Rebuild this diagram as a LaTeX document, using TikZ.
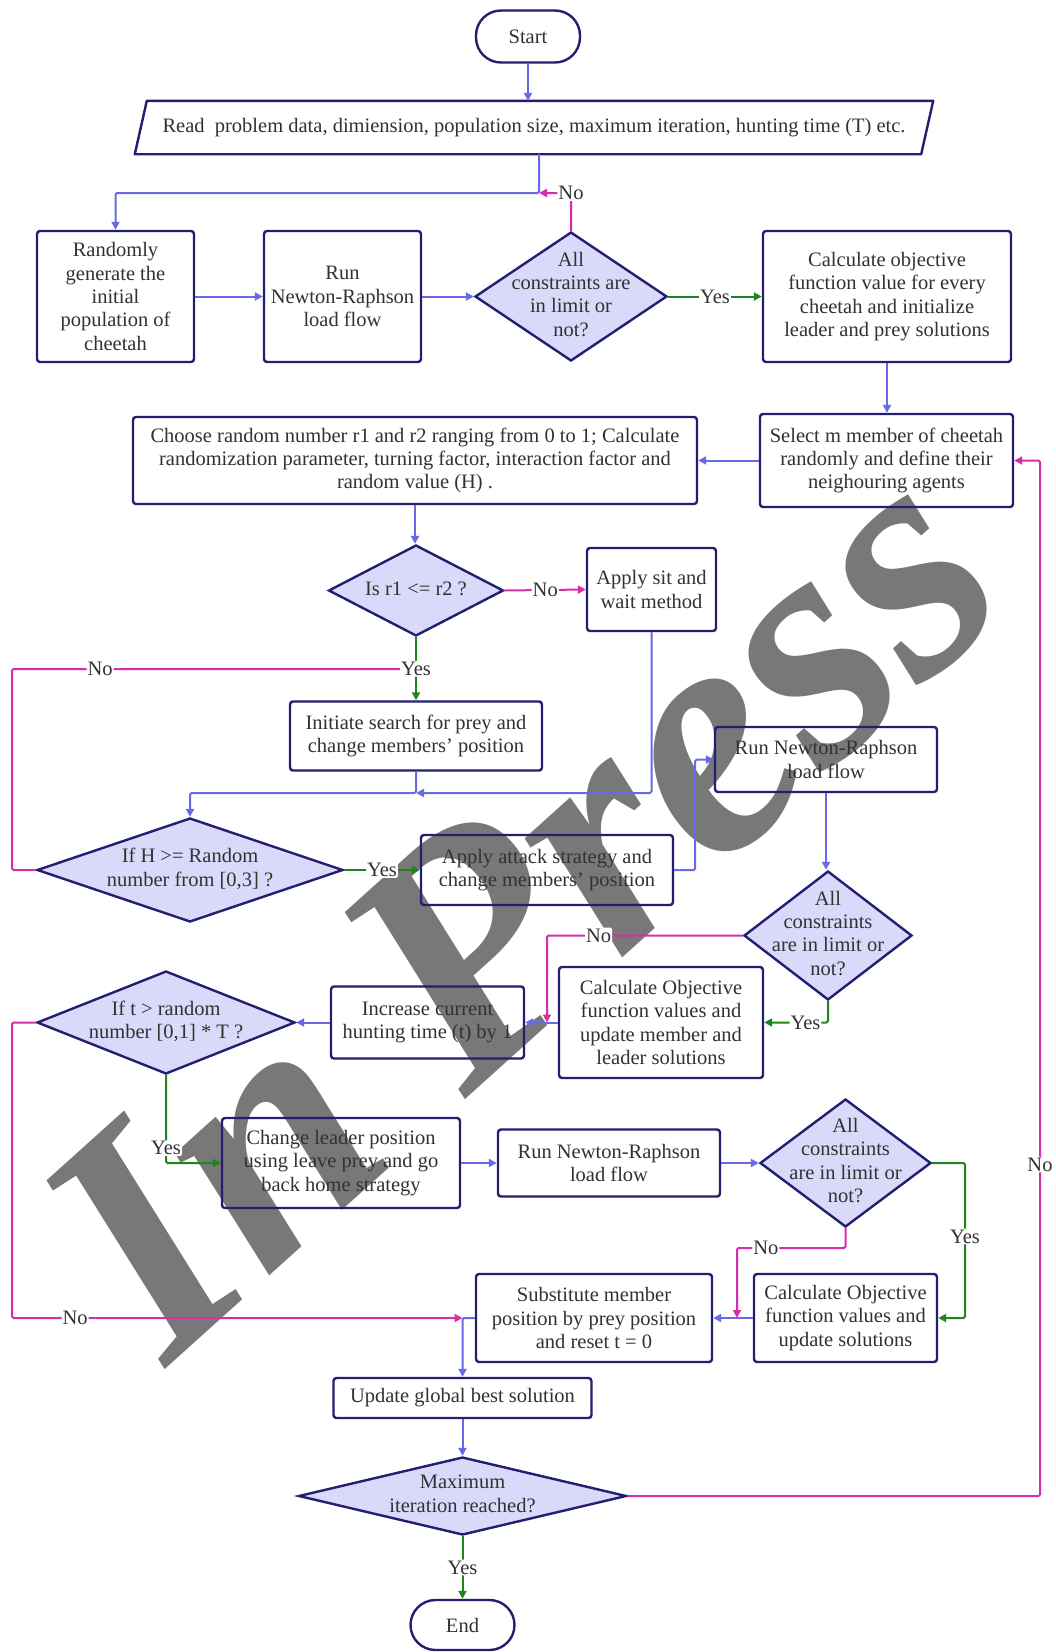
\documentclass[tikz,border=0pt]{standalone}
\usepackage{fontspec}
\setmainfont{Liberation Serif}
\usetikzlibrary{shapes.geometric,arrows.meta,calc}
\definecolor{navy}{RGB}{35,30,112}
\definecolor{lav}{RGB}{217,217,250}
\definecolor{blc}{RGB}{105,105,232}
\definecolor{mgc}{RGB}{214,45,170}
\definecolor{grc}{RGB}{30,132,30}
\definecolor{txt}{RGB}{50,50,50}
\newcommand\fsz{\fontsize{20.5}{23.3}\selectfont}
\newcommand\dtx[1]{\smash{\raisebox{-0.25em}{\makebox[0pt]{\begin{tabular}{@{}c@{}}#1\end{tabular}}}}}
\tikzset{
  box/.style={draw=navy, line width=2.4pt, rounded corners=3pt, align=center, text=txt, font=\fsz, inner sep=0pt},
  term/.style={box, rounded corners=25pt},
  dia/.style={diamond, draw=navy, fill=lav, line width=2.4pt, inner sep=0pt, text=txt, font=\fsz},
  arr/.style={-{Triangle[length=8pt,width=8pt]}},
  lnb/.style={draw=blc, line width=2pt, rounded corners=1.5pt},
  lnm/.style={draw=mgc, line width=2pt, rounded corners=1.5pt},
  lng/.style={draw=grc, line width=2pt, rounded corners=1.5pt},
  lbl/.style={fill=white, inner sep=1pt, text=txt, font=\fsz}
}
\begin{document}
\begin{tikzpicture}[x=1pt,y=-1pt]
\useasboundingbox[fill=white] (0,0) rectangle (1056,1652);
% watermark
\node[rotate=42, font=\fontsize{335}{335}\selectfont\bfseries\itshape, text=black!62, opacity=0.85, inner sep=0pt] (wm) at (521,904) {In Press};
% nodes
\node[term, minimum width=104pt, minimum height=52pt] (start) at (528,36.5) {Start};
\node[inner sep=0pt, minimum width=786pt, minimum height=53pt, text=txt, font=\fsz] (read) at (534,127.5) {Read\ \ problem data, dimiension, population size, maximum iteration, hunting time (T) etc.};
\draw[navy, line width=2.4pt, line join=round] ($(read.south west)+(-6,0)$) -- ($(read.south east)+(-6,0)$) -- ($(read.north east)+(6,0)$) -- ($(read.north west)+(6,0)$) -- cycle;
\node[box, minimum width=157pt, minimum height=131pt] (rand) at (115.5,296.5) {Randomly\\generate the\\initial\\population of\\cheetah};
\node[box, minimum width=157pt, minimum height=131pt] (run1) at (342.5,296.5) {Run\\Newton-Raphson\\load flow};
\node[dia, minimum width=192pt, minimum height=129pt] (d1) at (571,296.5) {\dtx{All\\constraints are\\in limit or\\not?}};
\node[box, minimum width=248pt, minimum height=131pt] (calc1) at (887,296.5) {Calculate objective\\function value for every\\cheetah and initialize\\leader and prey solutions};
\node[box, minimum width=253pt, minimum height=93pt] (sel) at (886.5,460.5) {Select m member of cheetah\\randomly and define their\\neighouring agents};
\node[box, minimum width=564pt, minimum height=87pt] (choose) at (415,460.5) {Choose random number r1 and r2 ranging from 0 to 1; Calculate\\randomization parameter, turning factor, interaction factor and\\random value (H) .};
\node[dia, minimum width=175pt, minimum height=91pt] (d2) at (416,590.5) {\dtx{Is r1 <= r2 ?}};
\node[box, minimum width=129pt, minimum height=83pt] (sit) at (651.5,589.5) {Apply sit and\\wait method};
\node[box, minimum width=252pt, minimum height=69pt] (init) at (416,736) {Initiate search for prey and\\change members' position};
\node[box, minimum width=222pt, minimum height=65pt] (run2) at (826,759.5) {Run Newton-Raphson\\load flow};
\node[dia, minimum width=306pt, minimum height=104pt] (dH) at (190,870) {\dtx{If H >= Random\\number from [0,3] ?}};
\node[box, minimum width=252pt, minimum height=70pt] (attack) at (547,870) {Apply attack strategy and\\change members' position};
\node[dia, minimum width=168pt, minimum height=129pt] (d3) at (828,935.5) {\dtx{All\\constraints\\are in limit or\\not?}};
\node[box, minimum width=204pt, minimum height=111pt] (calc2) at (661,1022.5) {Calculate Objective\\function values and\\update member and\\leader solutions};
\node[box, minimum width=193pt, minimum height=72pt] (inc) at (427.5,1022.5) {Increase current\\hunting time (t) by 1};
\node[dia, minimum width=258pt, minimum height=103pt] (dt) at (166,1022.5) {\dtx{If t > random\\number [0,1] * T ?}};
\node[box, minimum width=238pt, minimum height=90pt] (chg) at (341,1163) {Change leader position\\using leave prey and go\\back home strategy};
\node[box, minimum width=222pt, minimum height=67pt] (run3) at (609,1163) {Run Newton-Raphson\\load flow};
\node[dia, minimum width=171pt, minimum height=128pt] (d4) at (845.5,1163) {\dtx{All\\constraints\\are in limit or\\not?}};
\node[box, minimum width=183pt, minimum height=88pt] (calc3) at (845.5,1318) {Calculate Objective\\function values and\\update solutions};
\node[box, minimum width=236pt, minimum height=88pt] (sub) at (594,1318) {Substitute member\\position by prey position\\and reset t = 0};
\node[box, minimum width=258pt, minimum height=40pt] (upd) at (462.5,1398) {Update global best solution};
\node[dia, minimum width=328pt, minimum height=78pt] (dmax) at (462.5,1496) {\dtx{Maximum\\iteration reached?}};
\node[term, minimum width=104pt, minimum height=50pt] (endn) at (462.5,1625) {End};
% junction coordinates
\coordinate (j1) at (539,193);
\coordinate (jy) at (416,669);
\coordinate (jL1) at (12,669);
\coordinate (j2) at (416,793);
\coordinate (j3) at (547,1022.5);
\coordinate (jL2) at (12,1318);
\coordinate (jS) at (462.5,1318);
\coordinate (jG) at (965,1318);
\coordinate (jm5) at (737,1248);
\coordinate (j5) at (737,1318);
\coordinate (jR) at (1040,460.5);
% connectors
\draw[lnb,arr] (start.south) -- (start.south |- read.north);
\draw[lnb,arr] (read.south -| j1) -- (j1) -| (rand.north);
\draw[lnb,arr] (rand.east) -- (run1.west);
\draw[lnb,arr] (run1.east) -- (d1.west);
\draw[lng,arr] (d1.east) -- node[lbl]{Yes} (calc1.west);
\draw[lnm,arr] (d1.north) |- node[lbl,pos=0.5]{No} (j1);
\draw[lnb,arr] (calc1.south) -- (calc1.south |- sel.north);
\draw[lnb,arr] (sel.west) -- (choose.east);
\draw[lnb,arr] (choose.south) -- (choose.south |- d2.north);
\draw[lnm,arr] (d2.east) -- node[lbl]{No} (sit.west);
\draw[lnm] (dH.west) -| (jL1) -- node[lbl,pos=0.218]{No} (jy);
\draw[lng,arr] (d2.south) -- node[lbl]{Yes} (init.north);
\draw[lnb,arr] (sit.south) |- (j2);
\draw[lnb,arr] (init.south) -- (j2) -| (dH.north);
\draw[lng,arr] (dH.east) -- node[lbl]{Yes} (attack.west);
\draw[lnb,arr] (attack.east) -- ++(21,0) |- (run2.west);
\draw[lnb,arr] (run2.south) -- (run2.south |- d3.north);
\draw[lnm,arr] (d3.west) -| node[lbl,pos=0.368]{No} (j3);
\draw[lng,arr] (d3.south) |- node[lbl,pos=0.677]{Yes} (calc2.east);
\draw[lnb,arr] (calc2.west) -- (inc.east);
\draw[lnb,arr] (inc.west) -- (dt.east);
\draw[lnm,arr] (dt.west) -| (jL2) -- node[lbl,pos=0.14]{No} (jS);
\draw[lng,arr] (dt.south) |- node[lbl,pos=0.415]{Yes} (chg.west);
\draw[lnb,arr] (chg.east) -- (run3.west);
\draw[lnb,arr] (run3.east) -- (d4.west);
\draw[lng,arr] (d4.east) -| node[lbl,pos=0.737]{Yes} (jG) -- (calc3.east);
\draw[lnm,arr] (d4.south) |- node[lbl,pos=0.867]{No} (jm5) -- (j5);
\draw[lnb,arr] (calc3.west) -- (sub.east);
\draw[lnb,arr] (sub.west) -| (upd.north);
\draw[lnb,arr] (upd.south) -- (dmax.north);
\draw[lnm,arr] (dmax.east) -| node[lbl,pos=0.66]{No} (jR) -- (sel.east);
\draw[lng,arr] (dmax.south) -- node[lbl]{Yes} (endn.north);
\end{tikzpicture}
\end{document}
